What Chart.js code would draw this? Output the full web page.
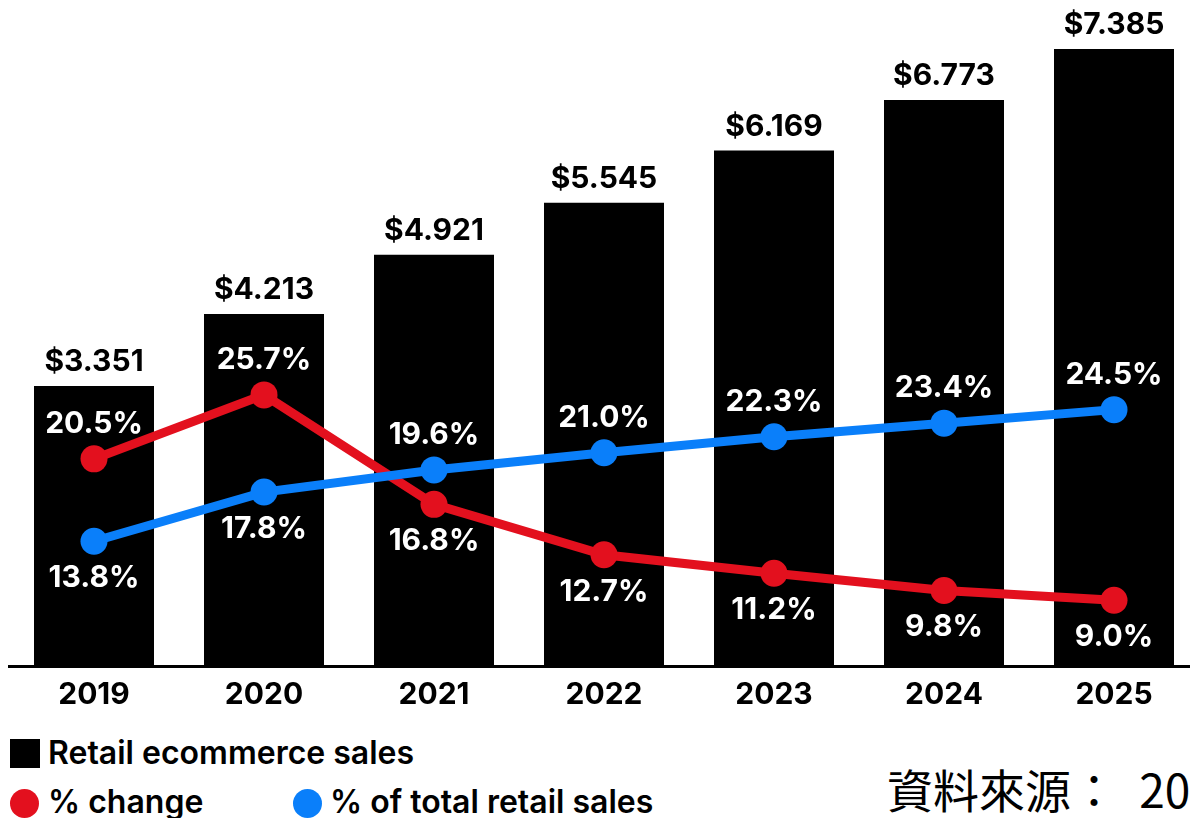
<!DOCTYPE html>
<html>
<head>
<meta charset="utf-8">
<script src="https://cdn.jsdelivr.net/npm/chart.js@4"></script>
<style>
  html, body { margin: 0; padding: 0; background: #fff; overflow: hidden; width: 1190px; height: 818px; }
  #wrap { position: absolute; left: 0; top: 0; width: 1200px; height: 720px; }
  .legend { position: absolute; font-family: Inter, sans-serif; font-weight: 600; font-size: 32px; color: #000; white-space: nowrap; line-height: 1; }
  .sw { position: absolute; }
  #source { position: absolute; left: 887px; top: 765px; font-family: "Noto Sans CJK TC", sans-serif; font-size: 46px; color: #000; white-space: nowrap; line-height: 1; word-spacing: 12px; }
</style>
</head>
<body>
<div id="wrap"><canvas id="chart" width="1200" height="720"></canvas></div>

<div class="sw" style="left:10px; top:739px; width:30px; height:29px; background:#000;"></div>
<div class="legend" style="left:48px; top:737px;">Retail ecommerce sales</div>
<div class="sw" style="left:10px; top:789px; width:29px; height:29px; border-radius:50%; background:#e3101e;"></div>
<div class="legend" style="left:48px; top:786px;">% change</div>
<div class="sw" style="left:293px; top:789px; width:29px; height:29px; border-radius:50%; background:#0a7ffa;"></div>
<div class="legend" style="left:330px; top:786px;">% of total retail sales</div>
<div id="source">資料來源： 2025</div>

<script>
// 年
const years = ['2019', '2020', '2021', '2022', '2023', '2024', '2025'];
// 零售電商銷售額 (兆美元)
const salesValues = [3.351, 4.213, 4.921, 5.545, 6.169, 6.773, 7.385];
const salesLabels = ['$3.351', '$4.213', '$4.921', '$5.545', '$6.169', '$6.773', '$7.385'];
// % change
const changeValues = [20.5, 25.7, 16.8, 12.7, 11.2, 9.8, 9.0];
// % of total retail sales
const shareValues = [13.8, 17.8, 19.6, 21.0, 22.3, 23.4, 24.5];

const RED = '#e3101e';
const BLUE = '#0a7ffa';
const LABEL_FONT = '700 30px Inter, sans-serif';

// ラベル位置 (上: -1, 下: 1)
const changeSide = [-1, -1, 1, 1, 1, 1, 1];
const shareSide = [1, 1, -1, -1, -1, -1, -1];

const labelPlugin = {
    id: 'valueLabels',
    afterDatasetsDraw(chart) {
        const ctx = chart.ctx;
        ctx.save();
        ctx.font = LABEL_FONT;
        ctx.textAlign = 'center';

        // 棒グラフの値
        const barMeta = chart.getDatasetMeta(0);
        ctx.fillStyle = '#000';
        ctx.textBaseline = 'alphabetic';
        barMeta.data.forEach((bar, i) => {
            ctx.fillText(salesLabels[i], bar.x, bar.y - 15);
        });

        // 折れ線の値
        ctx.fillStyle = '#fff';
        ctx.textBaseline = 'middle';
        const drawLine = (idx, values, side) => {
            chart.getDatasetMeta(idx).data.forEach((pt, i) => {
                const dy = side[i] < 0 ? -35 : 37;
                ctx.fillText(values[i].toFixed(1) + '%', pt.x, pt.y + dy);
            });
        };
        drawLine(1, changeValues, changeSide);
        drawLine(2, shareValues, shareSide);
        ctx.restore();
    }
};

const ctx = document.getElementById('chart').getContext('2d');
new Chart(ctx, {
    type: 'bar',
    data: {
        labels: years,
        datasets: [
            {
                type: 'bar',
                label: 'Retail ecommerce sales',
                data: salesValues,
                backgroundColor: '#000',
                yAxisID: 'y',
                barPercentage: 120 / 170,
                categoryPercentage: 1,
                order: 3
            },
            {
                type: 'line',
                label: '% change',
                data: changeValues,
                borderColor: RED,
                backgroundColor: RED,
                borderWidth: 9,
                pointRadius: 13.5,
                pointHoverRadius: 13.5,
                pointBorderWidth: 0,
                yAxisID: 'y2',
                order: 2
            },
            {
                type: 'line',
                label: '% of total retail sales',
                data: shareValues,
                borderColor: BLUE,
                backgroundColor: BLUE,
                borderWidth: 9,
                pointRadius: 13.5,
                pointHoverRadius: 13.5,
                pointBorderWidth: 0,
                yAxisID: 'y2',
                order: 1
            }
        ]
    },
    options: {
        responsive: false,
        animation: false,
        layout: { autoPadding: false, padding: { left: 9, right: 1, top: 0, bottom: 0 } },
        plugins: {
            legend: { display: false },
            tooltip: { enabled: false }
        },
        scales: {
            x: {
                grid: { display: false, drawTicks: false },
                border: { display: true, color: '#000', width: 3 },
                ticks: { color: '#000', font: { family: 'Inter, sans-serif', size: 30, weight: '700' }, padding: 11 },
                afterFit(scale) {
                    scale.height = 54;
                    scale.paddingLeft = 0;
                    scale.paddingRight = 0;
                }
            },
            y: {
                display: false,
                min: 0,
                max: 7.971
            },
            y2: {
                display: false,
                min: 3.66,
                max: 57.8
            }
        }
    },
    plugins: [labelPlugin]
});
</script>
</body>
</html>
